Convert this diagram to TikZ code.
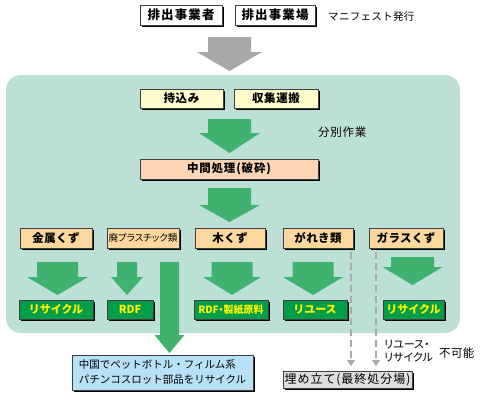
\documentclass[tikz,border=0pt]{standalone}
\usepackage{fontspec}
\setmainfont{Noto Sans CJK JP}
\usetikzlibrary{shadows,calc,arrows.meta}
\definecolor{panelc}{RGB}{189,224,214}
\definecolor{arrg}{RGB}{62,178,110}
\definecolor{resg}{RGB}{0,158,72}
\definecolor{ylw}{RGB}{255,252,204}
\definecolor{peach}{RGB}{252,213,180}
\definecolor{cato}{RGB}{253,216,158}
\definecolor{blu}{RGB}{184,224,246}
\definecolor{lgray}{RGB}{222,222,222}
\definecolor{arrgray}{RGB}{168,168,168}
\definecolor{dgray}{RGB}{170,170,170}
\definecolor{txty}{RGB}{255,245,0}
\newcommand\fs[3]{\fontsize{#1}{#2}\selectfont\addfontfeature{LetterSpace=#3}}
\tikzset{
  box/.style={draw=black!75, line width=0.6pt, inner sep=0pt,
    drop shadow={shadow xshift=2pt, shadow yshift=-2pt, fill=black, opacity=1}},
  topbox/.style={box, fill=white, minimum height=20, font=\bfseries\fs{12.5}{14}{9}},
  yelbox/.style={box, fill=ylw, minimum height=19, font=\bfseries\fs{11.5}{13}{5}},
  catbox/.style={box, fill=cato, minimum height=20, font=\bfseries\fs{11.5}{13}{3}},
  resbox/.style={box, fill=resg, minimum height=19, text=txty, font=\bfseries\fs{11}{13}{0}},
  plain/.style={inner sep=0pt},
}
\newcommand\blockarr[7]{% colour, cx, top, headstart, tip, shaft half, head half
  \fill[#1] ({#2-#6},-#3) -- ({#2+#6},-#3) -- ({#2+#6},-#4) -- ({#2+#7},-#4)
    -- (#2,-#5) -- ({#2-#7},-#4) -- ({#2-#6},-#4) -- cycle;}
\begin{document}
\begin{tikzpicture}[x=1pt,y=1pt]
\useasboundingbox (0,0) rectangle (480,-400);
% panel
\fill[panelc, rounded corners=15] (6,-75) rectangle (460,-333);
% arrows
\blockarr{arrgray}{229.5}{37}{52}{71}{21.5}{32.5}
\blockarr{arrg}{229.5}{119}{133}{153}{21.5}{30.5}
\blockarr{arrg}{229.5}{188}{205}{222}{21.5}{30.5}
\blockarr{arrg}{57.5}{262}{277}{295}{20.5}{30.5}
\blockarr{arrg}{127}{262}{277}{295}{10}{16}
\blockarr{arrg}{169.5}{262}{335}{353}{9.5}{15}
\blockarr{arrg}{232}{262}{277}{295}{20.5}{29}
\blockarr{arrg}{313}{262}{277}{295}{20.5}{30}
\blockarr{arrg}{412.5}{257}{267}{285}{21.5}{30}
% top
\node[topbox, minimum width=82] (h1) at (181,-15) {排出事業者};
\node[topbox, minimum width=80] (h2) at (275,-15) {排出事業場};
\node[plain, anchor=west, font=\fs{10.5}{13}{3}] (mani) at (328,-17) {マニフェスト発行};
% collection
\node[yelbox, minimum width=83] (mk) at (181.5,-98.5) {持込み};
\node[yelbox, minimum width=84] (ss) at (276,-98.5) {収集運搬};
\node[plain, anchor=west, font=\fs{11.5}{13}{6}] (bunbetsu) at (318,-132) {分別作業};
\node[box, fill=peach, minimum width=178, minimum height=20, font=\bfseries\fs{11.5}{13}{7}] (chukan) at (229,-169) {中間処理(破砕)};
% categories
\node[catbox, minimum width=72] (kinzoku) at (56,-238) {金属くず};
\node[catbox, minimum width=72, font=\fs{9.5}{12}{0}\addfontfeature{RawFeature=+palt}] (haipura) at (143,-238) {廃プラスチック類};
\node[catbox, minimum width=70] (moku) at (230,-238) {木くず};
\node[catbox, minimum width=70] (gareki) at (318,-238) {がれき類};
\node[catbox, minimum width=74] (garasu) at (406,-238) {ガラスくず};
% results
\node[resbox, minimum width=74] (rec1) at (56,-309.5) {リサイクル};
\node[resbox, minimum width=46] (rdf) at (130,-309.5) {RDF};
\node[resbox, minimum width=74, font=\bfseries\fs{10}{12}{0}\addfontfeature{RawFeature=+palt}] (rdfp) at (231,-309.5) {RDF・製紙原料};
\node[resbox, minimum width=64] (reuse) at (315,-309.5) {リユース};
\node[resbox, minimum width=61] (rec2) at (413.5,-309.5) {リサイクル};
% bottom
\node[box, fill=blu, minimum width=181, minimum height=35, align=left,
  font=\fs{10.5}{15}{0}] (china) at (162.5,-372.5)
  {中国でペットボトル・フィルム系\\パチンコスロット部品をリサイクル};
\node[box, fill=lgray, minimum width=129, minimum height=17,
  font=\fs{12}{14}{8}] (landfill) at (347.5,-379.5) {埋め立て(最終処分場)};
% dashed lines
\coordinate (d1s) at (351,-252);
\coordinate (d1e) at (351,-366);
\coordinate (d2s) at (376,-252);
\coordinate (d2e) at (376,-366);
\draw[dgray, line width=1.2pt, dash pattern=on 7pt off 4pt, -{Triangle[width=8pt,length=6pt]}] (d1s) -- (d1e);
\draw[dgray, line width=1.2pt, dash pattern=on 7pt off 4pt, -{Triangle[width=8pt,length=6pt]}] (d2s) -- (d2e);
\node[inner sep=0pt, anchor=west, align=left, font=\fs{11}{13}{0}\addfontfeature{RawFeature=+palt}] (reu) at (384,-351) {リユース・\\リサイクル};
\node[plain, anchor=west, font=\fs{11.5}{13}{3}] (fukano) at (439,-353) {不可能};
\end{tikzpicture}
\end{document}
